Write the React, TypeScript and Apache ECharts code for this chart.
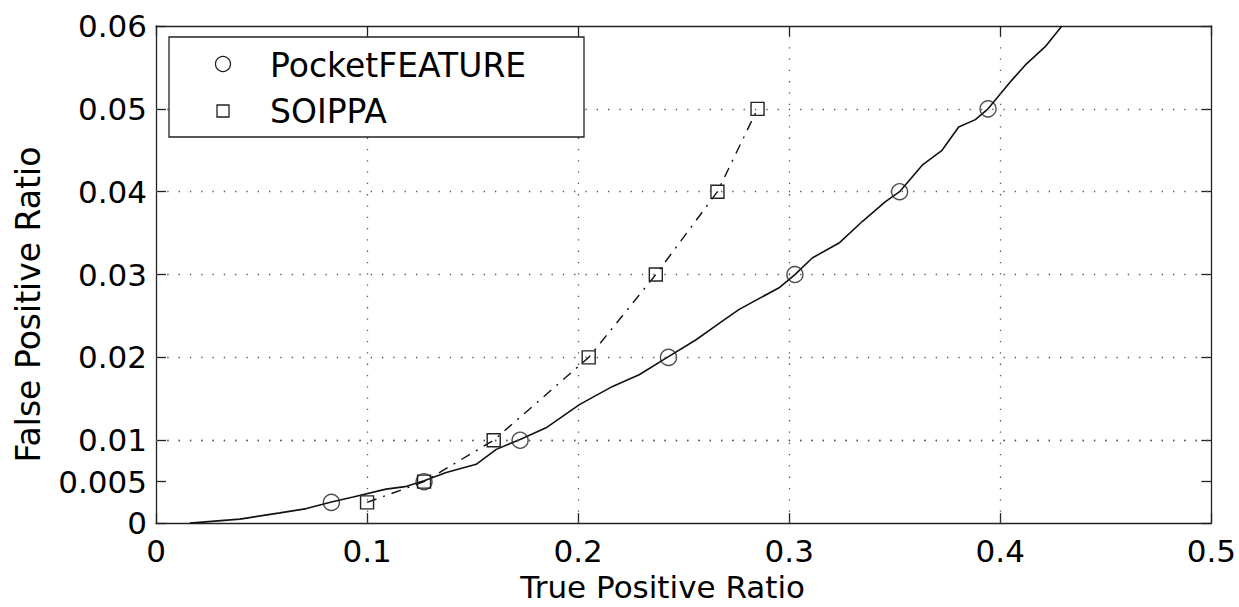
import React, { useEffect, useRef } from "react";
import * as echarts from "echarts";

// PocketFEATURE ROC-like curve (true positive ratio, false positive ratio)
const pocketCurveX = [
  0.016, 0.0397, 0.0587, 0.0713, 0.0831, 0.0934, 0.109, 0.118, 0.127, 0.1375,
  0.1517, 0.1612, 0.1725, 0.1848, 0.2006, 0.2163, 0.2289, 0.2428, 0.2557, 0.2668,
  0.2763, 0.2952, 0.3027, 0.3109, 0.3236, 0.3346, 0.3456, 0.3523, 0.363, 0.3724,
  0.3803, 0.3882, 0.3942, 0.4056, 0.4119, 0.4213, 0.4292,
];
const pocketCurveY = [
  0, 0.00048, 0.00123, 0.00175, 0.00255, 0.00315, 0.0041, 0.0044, 0.0051, 0.0061,
  0.0071, 0.0089, 0.0101, 0.0115, 0.0143, 0.0165, 0.0179, 0.0201, 0.0221, 0.0241,
  0.0258, 0.0284, 0.03, 0.032, 0.0338, 0.0364, 0.0388, 0.04, 0.0432, 0.045,
  0.0478, 0.0487, 0.05, 0.0535, 0.0553, 0.0575, 0.06,
];

// PocketFEATURE markers
const pocketMarkX = [0.0831, 0.127, 0.1725, 0.2428, 0.3027, 0.3523, 0.3942];
const pocketMarkY = [0.0025, 0.005, 0.01, 0.02, 0.03, 0.04, 0.05];

// SOIPPA points
const soippaX = [0.1, 0.127, 0.16, 0.205, 0.2368, 0.266, 0.285];
const soippaY = [0.0025, 0.005, 0.01, 0.02, 0.03, 0.04, 0.05];

// Axes
const xTickValues = [0, 0.1, 0.2, 0.3, 0.4, 0.5];
const yTickValues = [0, 0.005, 0.01, 0.02, 0.03, 0.04, 0.05, 0.06];
const xGridValues = [0.1, 0.2, 0.3, 0.4];
const yGridValues = [0.005, 0.01, 0.02, 0.03, 0.04, 0.05];

const seriesNames = ["PocketFEATURE", "SOIPPA"];

const FONT = "DejaVu Sans";
const AXIS_COLOR = "#222";

export default function App() {
  const ref = useRef<HTMLDivElement>(null);

  useEffect(() => {
    if (!ref.current) return;
    const chart = echarts.init(ref.current, null, { renderer: "svg" });

    const zip = (xs: number[], ys: number[]) => xs.map((x, i) => [x, ys[i]]);

    const axisLineStyle = { color: AXIS_COLOR, width: 1.3 };

    const option: any = {
      animation: false,
      backgroundColor: "#fff",
      grid: { left: 156, right: 26, top: 26, bottom: 79, containLabel: false },
      xAxis: [
        {
          type: "value",
          min: 0,
          max: 0.5,
          interval: 0.1,
          position: "bottom",
          name: "True Positive Ratio",
          nameLocation: "middle",
          nameGap: 40,
          nameTextStyle: {
            fontFamily: FONT,
            fontSize: 31,
            color: "#000",
            padding: [0, 42, 0, 0],
          },
          axisLine: { show: true, onZero: false, lineStyle: axisLineStyle },
          axisTick: { show: true, inside: true, length: 10, lineStyle: axisLineStyle },
          axisLabel: {
            fontFamily: FONT,
            fontSize: 31,
            color: "#000",
            margin: 12,
            showMinLabel: true,
            showMaxLabel: true,
            formatter: (v: number) => (xTickValues.some((t) => Math.abs(t - v) < 1e-9) ? String(+v.toFixed(3)) : ""),
          },
          splitLine: { show: false },
        },
        {
          type: "value",
          min: 0,
          max: 0.5,
          interval: 0.1,
          position: "top",
          axisLine: { show: true, onZero: false, lineStyle: axisLineStyle },
          axisTick: { show: true, inside: true, length: 10, lineStyle: axisLineStyle },
          axisLabel: { show: false },
          splitLine: { show: false },
        },
      ],
      yAxis: [
        {
          type: "value",
          min: 0,
          max: 0.06,
          interval: 0.01,
          position: "left",
          name: "False Positive Ratio",
          nameLocation: "middle",
          nameGap: 111,
          nameTextStyle: {
            fontFamily: FONT,
            fontSize: 33,
            color: "#000",
            padding: [0, 60, 0, 0],
          },
          axisLine: { show: true, onZero: false, lineStyle: axisLineStyle },
          axisTick: {
            show: true,
            inside: true,
            length: 10,
            lineStyle: axisLineStyle,
            customValues: yTickValues,
          },
          axisLabel: {
            fontFamily: FONT,
            fontSize: 31,
            color: "#000",
            margin: 9,
            customValues: yTickValues,
            formatter: (v: number) => String(+v.toFixed(4)),
          },
          splitLine: { show: false },
        },
        {
          type: "value",
          min: 0,
          max: 0.06,
          interval: 0.01,
          position: "right",
          axisLine: { show: true, onZero: false, lineStyle: axisLineStyle },
          axisTick: {
            show: true,
            inside: true,
            length: 10,
            lineStyle: axisLineStyle,
            customValues: yTickValues,
          },
          axisLabel: { show: false },
          splitLine: { show: false },
        },
      ],
      series: [
        {
          name: "grid",
          type: "line",
          xAxisIndex: 0,
          yAxisIndex: 0,
          data: [[0, 0]],
          symbol: "none",
          lineStyle: { opacity: 0 },
          silent: true,
          z: 1,
          markLine: {
            silent: true,
            symbol: ["none", "none"],
            label: { show: false },
            lineStyle: { color: "#555", width: 1.3, type: [1.3, 10] },
            data: [
              ...xGridValues.map((v) => ({ xAxis: v })),
              ...yGridValues.map((v) => ({ yAxis: v })),
            ],
          },
        },
        {
          name: seriesNames[0],
          type: "line",
          xAxisIndex: 0,
          yAxisIndex: 0,
          data: zip(pocketCurveX, pocketCurveY),
          symbol: "none",
          lineStyle: { color: "#111", width: 1.6 },
          clip: true,
          z: 3,
        },
        {
          name: seriesNames[0] + " markers",
          type: "scatter",
          xAxisIndex: 0,
          yAxisIndex: 0,
          data: zip(pocketMarkX, pocketMarkY),
          symbol: "circle",
          symbolSize: 16,
          itemStyle: { color: "none", borderColor: "#222", borderWidth: 1.4 },
          z: 4,
        },
        {
          name: seriesNames[1],
          type: "line",
          xAxisIndex: 0,
          yAxisIndex: 0,
          data: zip(soippaX, soippaY),
          symbol: "rect",
          symbolSize: 13,
          showSymbol: true,
          itemStyle: { color: "none", borderColor: "#222", borderWidth: 1.4 },
          lineStyle: { color: "#111", width: 1.4, type: [10, 7, 2, 7] },
          z: 4,
        },
      ],
      graphic: [
        {
          type: "group",
          z: 100,
          children: [
            {
              type: "rect",
              shape: { x: 169, y: 37, width: 415, height: 100 },
              style: { fill: "#fff", stroke: AXIS_COLOR, lineWidth: 1.3 },
              z: 100,
            },
            {
              type: "circle",
              shape: { cx: 223, cy: 64, r: 7.5 },
              style: { fill: "none", stroke: "#222", lineWidth: 1.3 },
              z: 101,
            },
            {
              type: "rect",
              shape: { x: 217, y: 105, width: 12, height: 12 },
              style: { fill: "none", stroke: "#222", lineWidth: 1.3 },
              z: 101,
            },
            {
              type: "text",
              x: 270,
              y: 65,
              style: {
                text: seriesNames[0],
                font: `33px "${FONT}"`,
                fill: "#000",
                verticalAlign: "middle",
                align: "left",
              },
              z: 101,
            },
            {
              type: "text",
              x: 270,
              y: 111,
              style: {
                text: seriesNames[1],
                font: `33px "${FONT}"`,
                fill: "#000",
                verticalAlign: "middle",
                align: "left",
              },
              z: 101,
            },
          ],
        },
      ],
    };

    chart.setOption(option);
    return () => chart.dispose();
  }, []);

  return (
    <div
      ref={ref}
      style={{ position: "fixed", left: 0, top: 0, width: 1239, height: 607, background: "#fff" }}
    />
  );
}
